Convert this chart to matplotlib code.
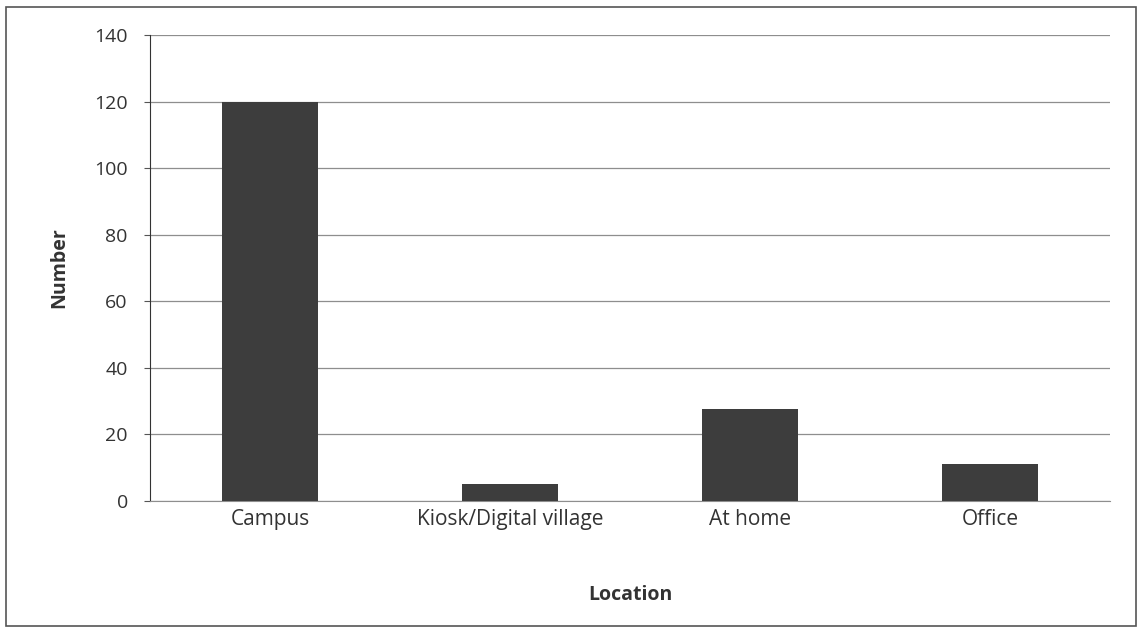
import matplotlib.pyplot as plt
from matplotlib.patches import Rectangle

# Datos
categorias = ['Campus', 'Kiosk/Digital village', 'At home', 'Office']
valores = [120, 5, 27.5, 11]
ticks_y = [0, 20, 40, 60, 80, 100, 120, 140]

plt.rcParams['font.family'] = ['Open Sans', 'DejaVu Sans']

fig = plt.figure(figsize=(11.43, 6.41), dpi=100)
ax = fig.add_axes([150 / 1143, 1 - 501 / 641, 960 / 1143, 466 / 641])

# Marco exterior
fig.patches.append(Rectangle((6 / 1143, 1 - 626 / 641), 1130 / 1143, 619 / 641,
                             transform=fig.transFigure, fill=False,
                             edgecolor='#555555', linewidth=1.2))

pos = range(len(categorias))
ax.bar(pos, valores, width=0.4, color='#3d3d3d', zorder=3)

ax.set_xlim(-0.5, len(categorias) - 0.5)
ax.set_ylim(0, 140)
ax.set_yticks(ticks_y)
ax.set_xticks(list(pos))
ax.set_xticklabels(categorias)
ax.grid(axis='y', color='#8e8e8e', linewidth=0.9, zorder=0)

for lado in ['top', 'right']:
    ax.spines[lado].set_visible(False)
ax.spines['left'].set_color('#333333')
ax.spines['bottom'].set_color('#8e8e8e')

ax.tick_params(axis='y', direction='out', length=4, color='#555555', labelsize=14, labelcolor='#333333', pad=12)
ax.tick_params(axis='x', length=0, labelsize=15, labelcolor='#333333', pad=6)

ax.set_xlabel('Location', fontsize=14, fontweight='bold', color='#333333', labelpad=39)
ax.set_ylabel('Number', fontsize=14, fontweight='bold', color='#333333', labelpad=18)

fig.savefig('out.png', dpi=100)
